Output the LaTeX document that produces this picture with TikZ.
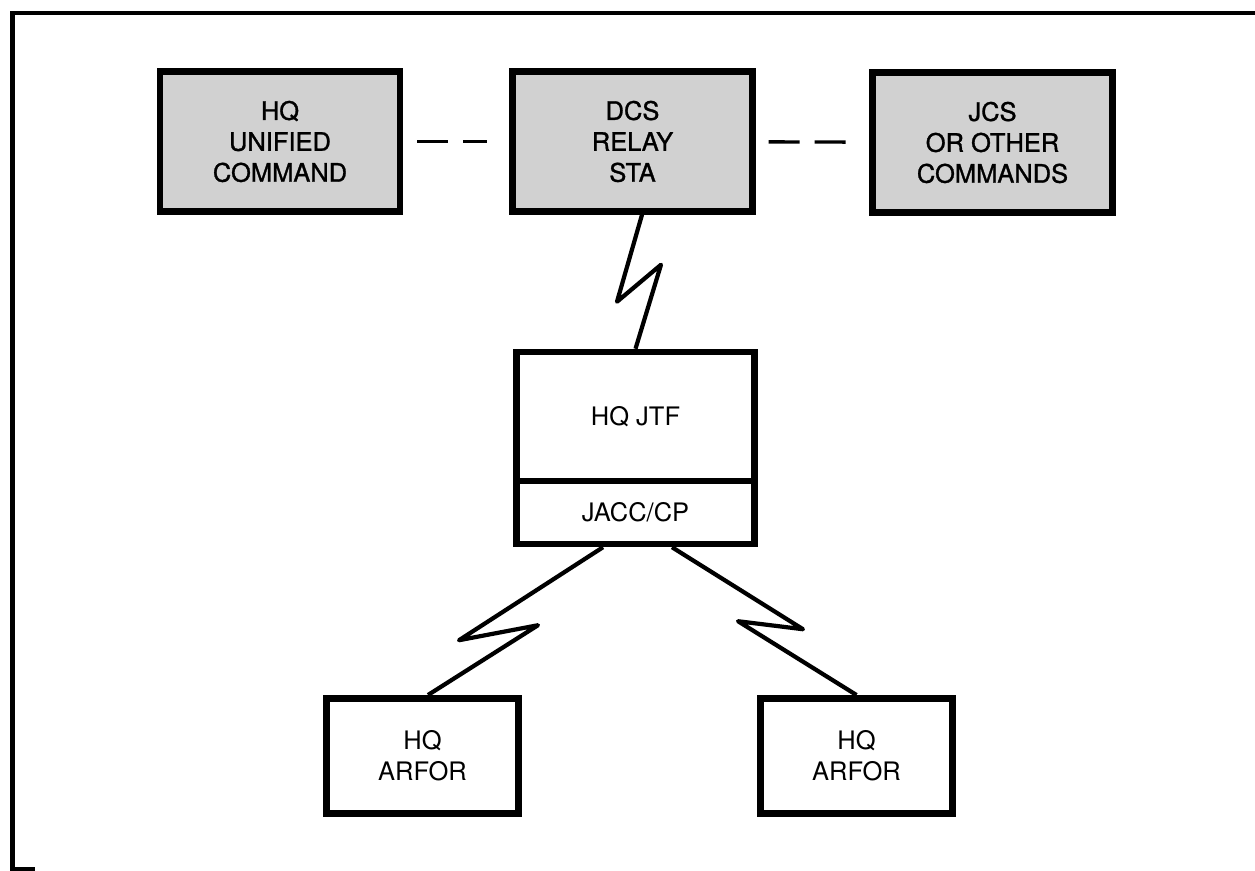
\documentclass[tikz,border=0pt]{standalone}
\usepackage{fontspec}
\setmainfont{TeX Gyre Heros}
\newfontfamily\heavyfont{TeX Gyre Heros}[FakeBold=1.2]
\usetikzlibrary{
  	positioning,
  	calc
  }
\tikzstyle{unit}=[draw,line width=3.7pt,align=center,inner sep=0pt,font=\fontsize{14.5}{17.6}\selectfont]
\tikzstyle{cmd}=[unit,fill=black!18,minimum width=4.8cm,minimum height=2.8cm,font=\fontsize{14.5}{17.6}\heavyfont]
\tikzstyle{hq}=[unit,minimum width=3.85cm,minimum height=2.31cm]
\tikzstyle{radio}=[line width=2.4pt,line join=round]
\tikzstyle{link}=[line width=1.9pt,dash pattern=on 0.62cm off 0.3cm]
\begin{document}
\begin{tikzpicture}[x=0.02cm,y=-0.02cm]
\useasboundingbox (0,0) rectangle (1255,871);
\draw [line width=2.5pt] (1255,13) -| (12.5,869) -- (35,869);
% top row
\node [cmd] (dcs) at (632.5,141.5) {DCS\\RELAY\\STA};
\path (dcs)++(-352.5,0) node [cmd] (uc) {HQ\\UNIFIED\\COMMAND};
\path (dcs)++(360,1) node [cmd] (jcs) {JCS\\OR OTHER\\COMMANDS};
\draw [link,shorten <=0.28cm,shorten >=0.44cm] (uc) -- (dcs);
\draw [link,shorten <=0.26cm,shorten >=0.38cm] (dcs) -- (jcs);
% joint task force
\node [unit,minimum width=4.77cm,minimum height=2.58cm] (jtf) at (635.5,416.5) {HQ JTF};
\node [unit,minimum width=4.77cm,minimum height=1.26cm,below=-3.7pt of jtf] (jacc) {JACC/CP};
\draw [radio] ([xshift=0.19cm]dcs.south) -- ++(-25,87) -- ++(44,-37) -- (jtf.north);
% forces
\node [hq] (arfl) at (422.5,756) {HQ\\ARFOR};
\path (arfl)++(434,0) node [hq] (arfr) {HQ\\ARFOR};
\draw [radio] ([xshift=-0.65cm]jacc.south) -- ++(-144,93) -- ++(79,-15) -- ([xshift=0.11cm]arfl.north);
\draw [radio] ([xshift=0.73cm]jacc.south) -- ++(131,82) -- ++(-65,-8) -- (arfr.north);
\end{tikzpicture}
\end{document}
